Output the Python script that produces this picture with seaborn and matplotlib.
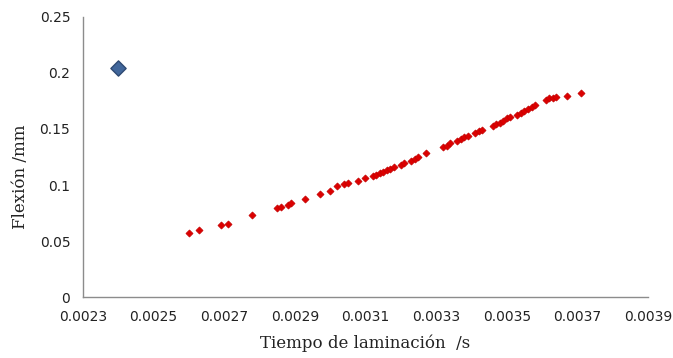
import numpy as np
import pandas as pd
import matplotlib.pyplot as plt
import seaborn as sns

# red series (laminación time vs flexión)
tiempo = [0.00260, 0.00263, 0.00269, 0.00271, 0.00278, 0.00285, 0.00286, 0.00288,
          0.00289, 0.00293, 0.00297, 0.00300, 0.00302, 0.00304, 0.00305, 0.00308,
          0.00310, 0.00312, 0.00313, 0.00314, 0.00315, 0.00316, 0.00317, 0.00318,
          0.00320, 0.00321, 0.00323, 0.00324, 0.00325, 0.00327, 0.00332, 0.00333,
          0.00334, 0.00336, 0.00337, 0.00338, 0.00339, 0.00341, 0.00342, 0.00343,
          0.00346, 0.00347, 0.00348, 0.00349, 0.00350, 0.00351, 0.00353, 0.00354,
          0.00355, 0.00356, 0.00357, 0.00358, 0.00361, 0.00362, 0.00363, 0.00364,
          0.00367, 0.00371]
flexion = [0.0574, 0.0596, 0.0643, 0.0654, 0.0732, 0.0797, 0.0806, 0.0819,
           0.0842, 0.0878, 0.0920, 0.0949, 0.0991, 0.1006, 0.1015, 0.1035,
           0.1060, 0.1076, 0.1089, 0.1103, 0.1116, 0.1134, 0.1147, 0.1161,
           0.1179, 0.1196, 0.1214, 0.1232, 0.1250, 0.1288, 0.1342, 0.1351,
           0.1378, 0.1393, 0.1411, 0.1424, 0.1438, 0.1460, 0.1482, 0.1491,
           0.1529, 0.1540, 0.1554, 0.1571, 0.1596, 0.1610, 0.1625, 0.1638,
           0.1656, 0.1674, 0.1696, 0.1714, 0.1759, 0.1772, 0.1777, 0.1788,
           0.1795, 0.1819]

# the single blue point
tiempo_ref = [0.00240]
flexion_ref = [0.204]

x_ticks = [0.0023, 0.0025, 0.0027, 0.0029, 0.0031, 0.0033, 0.0035, 0.0037, 0.0039]
y_ticks = [0, 0.05, 0.1, 0.15, 0.2, 0.25]

data = pd.DataFrame({"Tiempo": tiempo, "Flexion": flexion})
ref = pd.DataFrame({"Tiempo": tiempo_ref, "Flexion": flexion_ref})

sns.set_style("white")
plt.rcParams["font.family"] = ["DejaVu Sans"]

fig = plt.figure(figsize=(6.73, 3.58), dpi=100)
ax = fig.add_axes([0.123, 0.170, 0.840, 0.783])

sns.scatterplot(data=data, x="Tiempo", y="Flexion", ax=ax, marker="D", s=13,
                color="#dc0000", edgecolor="#c40000", linewidth=0.5)
sns.scatterplot(data=ref, x="Tiempo", y="Flexion", ax=ax, marker="D", s=60,
                color="#41679b", edgecolor="#2e4a73", linewidth=1.0)

ax.set_xlim(0.0023, 0.0039)
ax.set_ylim(0, 0.25)
ax.set_xticks(x_ticks)
ax.set_xticklabels([f"{t:.4f}" for t in x_ticks])
ax.set_yticks(y_ticks)
ax.set_yticklabels(["0", "0.05", "0.1", "0.15", "0.2", "0.25"])
ax.tick_params(axis="both", length=0, labelsize=10, colors="#222222", pad=9)

for side in ["top", "right"]:
    ax.spines[side].set_visible(False)
for side in ["left", "bottom"]:
    ax.spines[side].set_color("#8c8c8c")
    ax.spines[side].set_linewidth(1.0)

ax.set_xlabel("Tiempo de laminación  /s", family="DejaVu Serif", fontsize=12,
              color="#222222", labelpad=8)
ax.set_ylabel("Flexión /mm", family="DejaVu Serif", fontsize=12,
              color="#222222", labelpad=8)
ax.yaxis.set_label_coords(-0.095, 0.43)

fig.savefig("out.png", dpi=100)
plt.close(fig)
